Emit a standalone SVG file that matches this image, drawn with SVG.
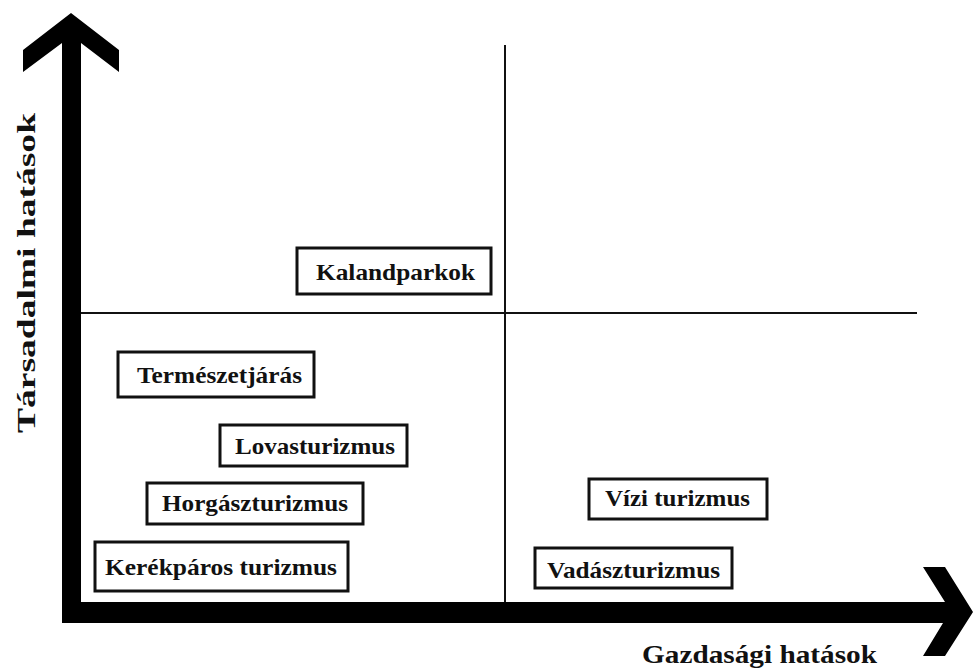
<svg xmlns="http://www.w3.org/2000/svg" width="974" height="671" viewBox="0 0 974 671">
<style>
.box{fill:#fff;stroke:#111;stroke-width:3}
.t{font-weight:bold;font-size:23px;fill:#111}
.ax{font-weight:bold;font-size:25px;fill:#111}
.q{stroke:#111;stroke-width:2;fill:none}
</style>
<rect width="974" height="671" fill="#fff"/>
<g id="connectors">
<line class="q" x1="505" y1="45" x2="505" y2="604"/>
<line class="q" x1="81" y1="313" x2="917" y2="313"/>
<path id="axes" d="M62,623 L62,43 L23,72 L23,50 L71,13 L119,50 L119,72 L81,43 L81,602 L945,602 L923,567 L945,567 L973,612 L945,656 L923,656 L943,623 Z" fill="#000"/>
</g>
<g font-family="Liberation Serif, Times New Roman, serif">
<g id="n-kalandparkok"><rect class="box" x="297" y="248" width="194" height="46"/><text class="t" x="316" y="280" textLength="159" lengthAdjust="spacingAndGlyphs">Kalandparkok</text></g>
<g id="n-termeszetjaras"><rect class="box" x="118" y="352" width="196" height="45"/><text class="t" x="137" y="383" textLength="165" lengthAdjust="spacingAndGlyphs">Természetjárás</text></g>
<g id="n-lovasturizmus"><rect class="box" x="220" y="425" width="187" height="41"/><text class="t" x="235" y="454" textLength="160" lengthAdjust="spacingAndGlyphs">Lovasturizmus</text></g>
<g id="n-horgaszturizmus"><rect class="box" x="147" y="483" width="216" height="41"/><text class="t" x="162" y="511" textLength="186" lengthAdjust="spacingAndGlyphs">Horgászturizmus</text></g>
<g id="n-kerekparos"><rect class="box" x="95" y="542" width="253" height="49"/><text class="t" x="105" y="575" textLength="232" lengthAdjust="spacingAndGlyphs">Kerékpáros turizmus</text></g>
<g id="n-vizi"><rect class="box" x="589" y="479" width="178" height="40"/><text class="t" x="605" y="506" textLength="145" lengthAdjust="spacingAndGlyphs">Vízi turizmus</text></g>
<g id="n-vadasz"><rect class="box" x="535" y="548" width="197" height="40"/><text class="t" x="547" y="578" textLength="173" lengthAdjust="spacingAndGlyphs">Vadászturizmus</text></g>
<g id="labels">
<text class="ax" x="642" y="663" textLength="235" lengthAdjust="spacingAndGlyphs">Gazdasági hatások</text>
<text class="ax" transform="translate(35,433) rotate(-90)" x="0" y="0" textLength="320" lengthAdjust="spacingAndGlyphs">Társadalmi hatások</text>
</g>
</g>
</svg>
